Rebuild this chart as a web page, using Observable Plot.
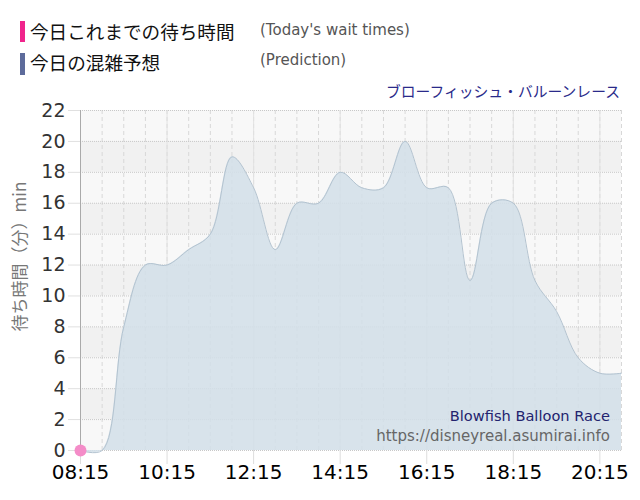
<!DOCTYPE html>
<html><head><meta charset="utf-8">
<script src="https://cdn.jsdelivr.net/npm/d3@7"></script>
<script src="https://cdn.jsdelivr.net/npm/@observablehq/plot@0.6"></script>
<style>
body{margin:0;background:#fff;font-family:"DejaVu Sans",Verdana,sans-serif;}
#wrap{position:relative;width:640px;height:500px;}
.t{position:absolute;white-space:nowrap;}
#chart{position:absolute;left:0;top:80px;}
</style></head>
<body>
<div id="wrap">
  <div class="t" style="left:20px;top:21px;width:5px;height:21px;background:#f0248c"></div>
  <div class="t" style="left:30px;top:17px;font-size:18.6px;color:#111;font-family:'Noto Sans CJK JP',sans-serif">今日これまでの待ち時間</div>
  <div class="t" style="left:260px;top:21px;font-size:15px;color:#555">(Today's wait times)</div>
  <div class="t" style="left:20px;top:53px;width:5px;height:22px;background:#5d6b9b"></div>
  <div class="t" style="left:30px;top:48px;font-size:18.6px;color:#111;font-family:'Noto Sans CJK JP',sans-serif">今日の混雑予想</div>
  <div class="t" style="left:260px;top:51px;font-size:15px;color:#555">(Prediction)</div>
  <div class="t" style="right:20px;top:80px;font-size:14.8px;color:#2a2a8a;font-family:'Noto Sans CJK JP',sans-serif">ブローフィッシュ・バルーンレース</div>
  <div class="t" style="left:-57px;top:244px;width:150px;text-align:center;transform:rotate(-90deg);font-size:17px;color:#777;font-family:'Noto Sans CJK JP',sans-serif">待ち時間（分）min</div>
  <div id="chart"></div>
  <div class="t" style="right:30px;top:407px;font-size:14.6px;color:#23236e">Blowfish Balloon Race</div>
  <div class="t" style="right:30px;top:427px;font-size:15px;color:#666">https://disneyreal.asumirai.info</div>
</div>
<script>
const times = ["08:15","08:45","09:15","09:45","10:15","10:45","11:15","11:45","12:15","12:45","13:15","13:45","14:15","14:45","15:15","15:45","16:15","16:45","17:15","17:45","18:15","18:45","19:15","19:45","20:15","20:45"];
const prediction = [0,0,8,12,12,13,14,19,17,13,16,16,18,17,17,20,17,17,11,16,16,11,9,6,5,5];
const actualTimes = ["08:15"];
const actualValues = [0];
const xTickLabels = ["08:15","10:15","12:15","14:15","16:15","18:15","20:15"];
const yTicks = [0,2,4,6,8,10,12,14,16,18,20,22];

const toMin = s => { const [h,m] = s.split(":").map(Number); return h*60+m; };
const fmt = v => String(Math.floor(v/60)).padStart(2,"0")+":"+String(v%60).padStart(2,"0");
const pred = times.map((t,i)=>({x:toMin(t), y:prediction[i]}));
const actual = actualTimes.map((t,i)=>({x:toMin(t), y:actualValues[i]}));
const xDomain = [toMin("08:15"), toMin("20:45")];
const minorTicks = d3.range(xDomain[0], xDomain[1]+1, 30);
const majorTicks = xTickLabels.map(toMin);
const bands = yTicks.slice(0,-1).map(v=>({y1:v,y2:v+2,dark:(v/2)%2===1}));

const chart = Plot.plot({
  width:640, height:420,
  marginLeft:80, marginRight:19, marginTop:30, marginBottom:50,
  style:{fontFamily:"'DejaVu Sans',Verdana,sans-serif", background:"transparent", overflow:"visible"},
  x:{domain:xDomain, ticks:majorTicks, tickFormat:fmt, label:null},
  y:{domain:[0,22], ticks:yTicks, label:null},
  marks:[
    Plot.rectY(bands, {x1:xDomain[0], x2:xDomain[1], y1:"y1", y2:"y2", fill:d=>d.dark?"#f1f1f1":"#f8f8f8"}),
    Plot.ruleX(minorTicks, {stroke:"#d8d8d8", strokeDasharray:"4,3", strokeWidth:1}),
    Plot.ruleY(yTicks, {stroke:"#c8c8c8", strokeDasharray:"1,1", strokeWidth:1}),
    Plot.ruleX(majorTicks, {y1:0, y2:22, stroke:"#e2e2e2", strokeWidth:1}),
    Plot.areaY(pred, {x:"x", y:"y", curve:"catmull-rom", fill:"#d3dfe8", fillOpacity:0.88}),
    Plot.lineY(pred, {x:"x", y:"y", curve:"catmull-rom", stroke:"#b3c3d0", strokeWidth:1}),
    Plot.ruleX([xDomain[0]], {stroke:"#aaaaaa", strokeWidth:1}),
    Plot.axisX({ticks:majorTicks, tickFormat:fmt, tickSize:14, tickPadding:0, stroke:"#dddddd", fontSize:20, fill:"#000", label:null}),
    Plot.axisY({ticks:yTicks, tickSize:12, tickPadding:3, stroke:"#e0e0e0", fontSize:19, fill:"#333", label:null}),
    Plot.dot(actual, {x:"x", y:"y", r:6, fill:"#f48cc8", stroke:"none"})
  ]
});
document.getElementById("chart").appendChild(chart);
</script>
</body></html>
